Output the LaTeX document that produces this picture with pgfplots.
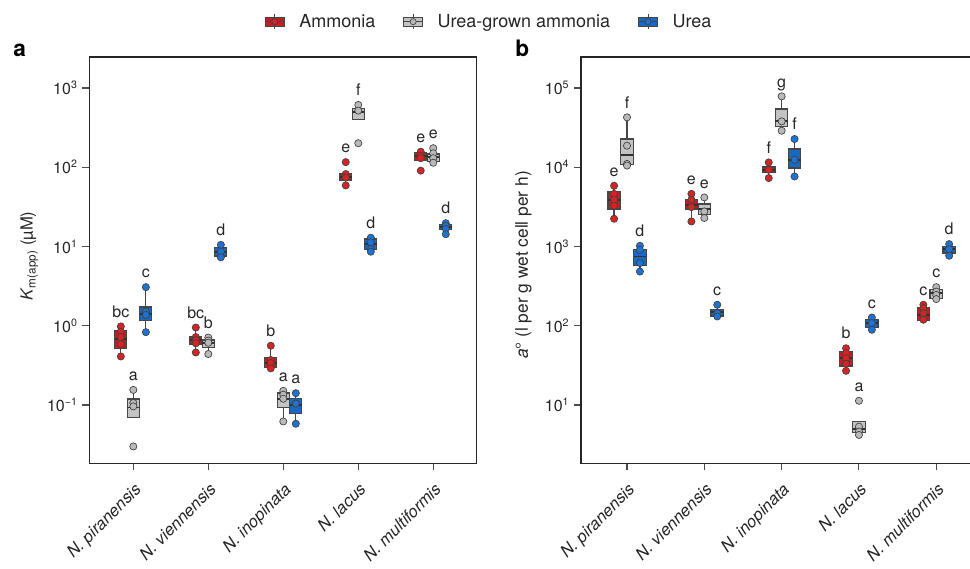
\documentclass[border=0pt]{standalone}
\usepackage{pgfplots}
\pgfplotsset{compat=1.18}
\usepackage{fontspec}
\setmainfont{TeX Gyre Heros}
\definecolor{redP}{RGB}{215,35,35}
\definecolor{redB}{RGB}{196,30,35}
\definecolor{grayP}{RGB}{185,185,185}
\definecolor{grayB}{RGB}{195,195,195}
\definecolor{blueP}{RGB}{30,115,210}
\definecolor{blueB}{RGB}{25,105,195}
\definecolor{edgeC}{RGB}{70,70,70}
\pgfplotsset{
 whisk/.style={draw=edgeC, line width=0.9pt, forget plot},
 boxst/.style={draw=edgeC, line width=0.9pt, forget plot},
 medst/.style={draw=edgeC!70!black, line width=1.4pt, forget plot},
}
\tikzset{lett/.style={anchor=base, yshift=7pt, font=\fontsize{12}{14}\selectfont, inner sep=0pt, text=black!85}}
\newcommand{\bxp}[7]{%
 \pgfmathsetmacro\myxl{#1-0.08}\pgfmathsetmacro\myxr{#1+0.08}%
 \edef\mydoit{%
  \noexpand\addplot[whisk] coordinates {(#1,#3) (#1,#4)};
  \noexpand\addplot[whisk] coordinates {(#1,#6) (#1,#7)};
  \noexpand\addplot[boxst, fill=#2B] coordinates {(\myxl,#4) (\myxr,#4) (\myxr,#6) (\myxl,#6)} -- cycle;
  \noexpand\addplot[medst] coordinates {(\myxl,#5) (\myxr,#5)};
 }\mydoit}
\newcommand{\ptsp}[5]{%
 \gdef\mypts{}%
 \foreach \myv in {#3} {\xdef\mypts{\mypts (#1,\myv)}}%
 \edef\mydoit{%
  \noexpand\addplot[only marks, mark=*, mark size=2.7pt, mark options={draw=black!75, line width=0.5pt, fill=#2P}, forget plot] coordinates {\mypts};
  \noexpand\node[lett] at (axis cs:#1,#5) {#4};
 }\mydoit}
\newcommand{\legicon}[2]{%
 \draw[edgeC, line width=0.6pt] (7pt,-5.5pt) -- (7pt,5.5pt);
 \draw[fill=#1, draw=edgeC, line width=0.6pt] (0pt,-3.5pt) rectangle (14pt,3.5pt);
 \draw[edgeC, line width=0.8pt] (0pt,0pt) -- (14pt,0pt);
 \draw[fill=#2, draw=black!75, line width=0.5pt] (7pt,0pt) circle (2.3pt);
}
\begin{document}
\begin{tikzpicture}
\path[use as bounding box] (0pt,0pt) rectangle (727.5pt,426pt);
\node[anchor=base west, font=\bfseries\fontsize{17}{17}\selectfont, inner sep=0pt] at (9.75pt,383.25pt) {a};
\node[anchor=base west, font=\bfseries\fontsize{17}{17}\selectfont, inner sep=0pt] at (386.25pt,383.25pt) {b};
% ---------------- panel a
\begin{axis}[
  scale only axis, anchor=south west, height=304.75pt,
  ymode=log,
  axis line style={black!85, line width=0.8pt},
  tick style={gray!60!black, line width=0.8pt},
  major tick length=5.25pt, tick align=outside,
  xtick pos=bottom, ytick pos=left, yminorticks=false,
  xtick={0,1,2,3,4},
  xticklabels={\textit{N. piranensis},\textit{N. viennensis},\textit{N. inopinata},\textit{N. lacus},\textit{N. multiformis}},
  xticklabel style={rotate=45, anchor=north east, font=\fontsize{12.5}{14}\selectfont, inner sep=1pt, text=black!85},
  xticklabel shift=7pt,
  yticklabel style={font=\fontsize{12}{14}\selectfont, text=black!85},
  clip=false,
  at={(67pt,78.5pt)}, width=290.5pt,
  xmin=-0.587, xmax=4.579, ymin=0.01837, ymax=2460,
  ytick={0.1,1,10,100,1000},
  yticklabels={10\textsuperscript{−1},10\textsuperscript{0},10\textsuperscript{1},10\textsuperscript{2},10\textsuperscript{3}},
  ylabel={\textit{K}\textsubscript{m(app)} (µM)},
  ylabel style={at={(axis description cs:-0.155,0.51)}, anchor=center, font=\fontsize{12.5}{14}\selectfont, text=black!85},
  legend style={at={(1.033,1.087)}, anchor=center, draw=none, fill=none, legend columns=3,
    font=\fontsize{13.5}{15}\selectfont, text=black!85,
    /tikz/every odd column/.append style={column sep=9pt},
    /tikz/every even column/.append style={column sep=19pt}},
  legend cell align=left,
]
\addlegendimage{legend image code/.code={\legicon{redB}{redP}}}
\addlegendentry{Ammonia}
\addlegendimage{legend image code/.code={\legicon{grayB}{grayP}}}
\addlegendentry{Urea-grown ammonia}
\addlegendimage{legend image code/.code={\legicon{blueB}{blueP}}}
\addlegendentry{Urea}
% N. piranensis
\bxp{-0.167}{red}{0.41}{0.52}{0.68}{0.87}{0.98}
\ptsp{-0.167}{red}{0.98,0.84,0.72,0.59,0.41}{bc}{0.98}
\bxp{0}{gray}{0.07}{0.07}{0.093}{0.119}{0.155}
\ptsp{0}{gray}{0.155,0.106,0.096,0.030}{a}{0.155}
\bxp{0.167}{blue}{0.83}{1.16}{1.40}{1.72}{3.07}
\ptsp{0.167}{blue}{3.07,1.51,1.37,0.83}{c}{3.07}
% N. viennensis
\bxp{0.833}{red}{0.46}{0.59}{0.66}{0.72}{0.95}
\ptsp{0.833}{red}{0.95,0.72,0.66,0.60,0.46}{bc}{0.95}
\bxp{1}{gray}{0.44}{0.53}{0.60}{0.66}{0.71}
\ptsp{1}{gray}{0.71,0.65,0.61,0.44}{b}{0.71}
\bxp{1.167}{blue}{7.3}{7.6}{8.6}{9.8}{10.5}
\ptsp{1.167}{blue}{10.5,8.6,7.3}{d}{10.5}
% N. inopinata
\bxp{1.833}{red}{0.29}{0.30}{0.34}{0.40}{0.56}
\ptsp{1.833}{red}{0.56,0.37,0.34,0.29}{b}{0.56}
\bxp{2}{gray}{0.062}{0.093}{0.12}{0.142}{0.151}
\ptsp{2}{gray}{0.151,0.135,0.12,0.062}{a}{0.151}
\bxp{2.167}{blue}{0.058}{0.079}{0.10}{0.122}{0.141}
\ptsp{2.167}{blue}{0.141,0.104,0.058}{a}{0.141}
% N. lacus
\bxp{2.833}{red}{59}{69}{75.5}{82}{82}
\ptsp{2.833}{red}{116,82,74,59}{e}{116}
\bxp{3}{gray}{403}{403}{498}{555}{611}
\ptsp{3}{gray}{611,518,201}{f}{611}
\bxp{3.167}{blue}{8.6}{9.06}{10.7}{12.4}{12.9}
\ptsp{3.167}{blue}{12.9,11.3,9.25,8.6}{d}{12.9}
% N. multiformis
\bxp{3.833}{red}{121}{121}{139}{153}{157}
\ptsp{3.833}{red}{157,139,130,90.6}{e}{157}
\bxp{4}{gray}{114}{117}{136}{147}{174}
\ptsp{4}{gray}{174,150,130,114}{e}{174}
\bxp{4.167}{blue}{14.3}{16.2}{17.7}{18.9}{19.7}
\ptsp{4.167}{blue}{19.7,18.2,16.7,14.3}{d}{19.7}
\end{axis}
% ---------------- panel b
\begin{axis}[
  scale only axis, anchor=south west, height=304.75pt,
  ymode=log,
  axis line style={black!85, line width=0.8pt},
  tick style={gray!60!black, line width=0.8pt},
  major tick length=5.25pt, tick align=outside,
  xtick pos=bottom, ytick pos=left, yminorticks=false,
  xtick={0,1,2,3,4},
  xticklabels={\textit{N. piranensis},\textit{N. viennensis},\textit{N. inopinata},\textit{N. lacus},\textit{N. multiformis}},
  xticklabel style={rotate=45, anchor=north east, font=\fontsize{12.5}{14}\selectfont, inner sep=1pt, text=black!85},
  xticklabel shift=7pt,
  yticklabel style={font=\fontsize{12}{14}\selectfont, text=black!85},
  clip=false,
  at={(435.75pt,78.5pt)}, width=299.5pt,
  xmin=-0.595, xmax=4.57, ymin=1.837, ymax=246000,
  ytick={10,100,1000,10000,100000},
  yticklabels={10\textsuperscript{1},10\textsuperscript{2},10\textsuperscript{3},10\textsuperscript{4},10\textsuperscript{5}},
  ylabel={\textit{a}° (l per g wet cell per h)},
  ylabel style={at={(axis description cs:-0.144,0.488)}, anchor=center, font=\fontsize{13}{15}\selectfont, text=black!85},
]
% N. piranensis
\bxp{-0.167}{red}{2240}{2970}{3890}{4940}{5840}
\ptsp{-0.167}{red}{5840,4620,3890,3260,2240}{e}{5840}
\bxp{0}{gray}{10500}{10770}{14400}{22700}{42600}
\ptsp{0}{gray}{42600,18700,11000,10500}{f}{42600}
\bxp{0.167}{blue}{483}{570}{749}{927}{1020}
\ptsp{0.167}{blue}{1020,908,617,483}{d}{1020}
% N. viennensis
\bxp{0.833}{red}{2070}{2970}{3360}{3890}{4620}
\ptsp{0.833}{red}{4620,3890,3140,2070}{e}{4620}
\bxp{1}{gray}{2290}{2560}{2970}{3430}{4160}
\ptsp{1}{gray}{4160,2770,2290}{e}{4160}
\bxp{1.167}{blue}{131}{133}{150}{162}{184}
\ptsp{1.167}{blue}{184,144,131}{c}{184}
% N. inopinata
\bxp{1.833}{red}{7300}{8600}{9200}{10060}{11500}
\ptsp{1.833}{red}{11500,9300,7300}{f}{11500}
\bxp{2}{gray}{28900}{32700}{38000}{54300}{78400}
\ptsp{2}{gray}{78400,37900,28900}{g}{78400}
\bxp{2.167}{blue}{7650}{9770}{12400}{16990}{22700}
\ptsp{2.167}{blue}{22700,12440,7650}{f}{22700}
% N. lacus
\bxp{2.833}{red}{27}{31}{39}{47}{52}
\ptsp{2.833}{red}{52,45,39,33,27}{b}{52}
\bxp{3}{gray}{4.19}{4.49}{4.94}{6.17}{6.17}
\ptsp{3}{gray}{11.3,5.33,4.61,4.19}{a}{11.3}
\bxp{3.167}{blue}{89}{95}{108}{119}{127}
\ptsp{3.167}{blue}{127,108,89}{c}{127}
% N. multiformis
\bxp{3.833}{red}{116}{116}{137}{170}{184}
\ptsp{3.833}{red}{184,167,144,119}{c}{184}
\bxp{4}{gray}{217}{223}{260}{284}{307}
\ptsp{4}{gray}{307,270,245,217}{c}{307}
\bxp{4.167}{blue}{764}{826}{927}{1000}{1072}
\ptsp{4.167}{blue}{1072,927,764}{d}{1072}
\end{axis}
\end{tikzpicture}
\end{document}
